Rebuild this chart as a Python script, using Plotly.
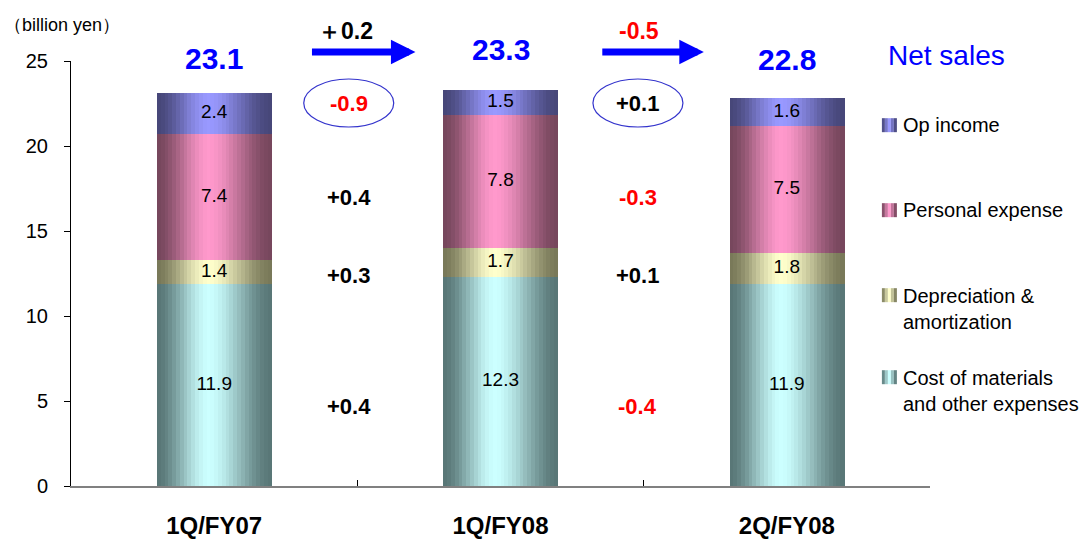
import plotly.graph_objects as go

# ---- data (billion yen) ----
periods = ["1Q/FY07", "1Q/FY08", "2Q/FY08"]
segments = ["Cost of materials<br>and other expenses", "Depreciation &<br>amortization",
            "Personal expense", "Op income"]
cost_other = [11.9, 12.3, 11.9]
depreciation = [1.4, 1.7, 1.8]
personal = [7.4, 7.8, 7.5]
op_income = [2.4, 1.5, 1.6]
net_sales = [23.1, 23.3, 22.8]

# period-to-period changes per segment (cost, depreciation, personal, op income)
change_fy07_fy08 = ["+0.4", "+0.3", "+0.4", "-0.9"]
change_1q_2q = ["-0.4", "+0.1", "-0.3", "+0.1"]
sales_change = ["＋0.2", "-0.5"]

series = [cost_other, depreciation, personal, op_income]
# (dark edge colour, light centre colour) for each segment
palette = [((88, 118, 118), (204, 255, 255)),
           ((120, 120, 88), (255, 255, 204)),
           ((118, 70, 92), (255, 153, 204)),
           ((70, 70, 120), (153, 153, 255))]

FONT = "Liberation Sans"

BAR_W = 0.4
N_STRIPS = 30


def shade(t):
    """Cylinder-like brightness profile across the bar (0 = edge, 1 = highlight)."""
    peak = 0.45
    if t <= peak:
        s = t / peak
    else:
        s = (1 - t) / (1 - peak)
    s = max(0.0, min(1.0, s))
    return s * s * (3 - 2 * s) * 0.85 + 0.15 * s


def mix(c0, c1, f):
    return "rgb(%d,%d,%d)" % tuple(round(a + (b - a) * f) for a, b in zip(c0, c1))


fig = go.Figure()

bases = [[0.0] * len(periods)]
for vals in series[:-1]:
    bases.append([b + v for b, v in zip(bases[-1], vals)])

strip_w = BAR_W / N_STRIPS
for vals, base, (dark, light) in zip(series, bases, palette):
    for i in range(N_STRIPS):
        t = (i + 0.5) / N_STRIPS
        fig.add_trace(go.Bar(
            x=periods, y=vals, base=base,
            width=strip_w * 1.15, offset=-BAR_W / 2 + i * strip_w,
            marker=dict(color=mix(dark, light, shade(t)), line=dict(width=0)),
            showlegend=False, hoverinfo="skip"))

# segment value labels
for vals, base in zip(series, bases):
    fig.add_trace(go.Scatter(
        x=periods, y=[b + v / 2 for b, v in zip(base, vals)],
        text=["%.1f" % v for v in vals], mode="text",
        textfont=dict(family=FONT, size=19, color="black"),
        showlegend=False, hoverinfo="skip"))

annotations = []

# net sales totals above bars
total_shift = [33, 38, 37]
for i, (p, tot) in enumerate(zip(periods, net_sales)):
    annotations.append(dict(x=i, y=tot, text="<b>%.1f</b>" % tot, showarrow=False,
                            yshift=total_shift[i] + 2,
                            font=dict(family=FONT, size=30, color="#0000ff")))


def chg_color(s):
    return "#ff0000" if s.startswith("-") else "black"


# segment change labels placed between the bars
change_heights = [4.65, 12.4, 17.0, 22.5]
for xc, changes in ((0.47, change_fy07_fy08), (1.48, change_1q_2q)):
    for s, yv in zip(changes, change_heights):
        annotations.append(dict(x=xc, y=yv, text="<b>%s</b>" % s, showarrow=False,
                                font=dict(family=FONT, size=22, color=chg_color(s))))

# net sales change arrows and labels (above the plotting area)
for (xtip, tail_px, xlab), s in zip(((0.703, -105, 0.46), (1.71, -103, 1.485)), sales_change):
    annotations.append(dict(x=xtip, y=1.021, xref="x", yref="paper",
                            ax=tail_px, ay=0, axref="pixel", ayref="pixel",
                            text="", showarrow=True, arrowhead=2, arrowsize=0.7,
                            arrowwidth=7, arrowcolor="#0000ff"))
    annotations.append(dict(x=xlab, y=1.07, xref="x", yref="paper", text="<b>%s</b>" % s,
                            showarrow=False, yanchor="middle",
                            font=dict(family=FONT, size=23, color=chg_color(s))))

# axis unit
annotations.append(dict(xref="paper", yref="paper", x=-0.08, y=1.085, xanchor="left",
                        yanchor="middle", text="（billion yen）", showarrow=False,
                        font=dict(family=FONT, size=18, color="black")))
# legend title and entries
annotations.append(dict(xref="paper", yref="paper", x=0.949, y=1.014, xanchor="left",
                        yanchor="middle", text="Net sales", showarrow=False,
                        font=dict(family=FONT, size=28, color="#0000ff")))

legend_rows = [0.849, 0.649, 0.449, 0.256]
legend_order = [3, 2, 1, 0]
shapes = []
for yrow, k in zip(legend_rows, legend_order):
    lines = segments[k].split("<br>")
    annotations.append(dict(xref="paper", yref="paper", x=0.966, y=yrow, xanchor="left",
                            yanchor="top" if len(lines) > 1 else "middle",
                            yshift=12 if len(lines) > 1 else 0,
                            align="left", text=segments[k], showarrow=False,
                            font=dict(family=FONT, size=20, color="black")))
    dark, light = palette[k]
    for j, f in enumerate([0.15, 0.6, 1.0, 0.55, 0.1]):
        shapes.append(dict(type="rect", xref="paper", yref="paper",
                           xsizemode="pixel", ysizemode="pixel",
                           xanchor=0.944, yanchor=yrow,
                           x0=j * 3, x1=j * 3 + 3, y0=-7, y1=7,
                           fillcolor=mix(dark, light, f), line=dict(width=0)))

# ellipses around the operating income changes
for xc in (0.47, 1.48):
    shapes.append(dict(type="circle", xref="x", yref="y", xsizemode="pixel",
                       ysizemode="pixel", xanchor=xc, yanchor=22.53,
                       x0=-45, x1=45, y0=-24, y1=24,
                       line=dict(color="#3333cc", width=1.2)))

fig.update_layout(
    width=1092, height=539,
    margin=dict(l=71, r=162, t=61, b=53),
    paper_bgcolor="white", plot_bgcolor="white",
    barmode="overlay", bargap=0,
    showlegend=False,
    annotations=annotations, shapes=shapes,
    font=dict(family=FONT, color="black"),
    xaxis=dict(type="category", categoryorder="array", categoryarray=periods,
               tickson="boundaries", ticks="inside", ticklen=6, tickcolor="black",
               showline=True, linecolor="#808080", linewidth=2, showgrid=False,
               tickfont=dict(family=FONT, size=24, color="black"),
               ticklabelstandoff=17, range=[-0.5, 2.5], automargin=False),
    yaxis=dict(range=[0, 25], dtick=5, ticks="outside", ticklen=6, tickcolor="black",
               showline=True, linecolor="black", linewidth=1, showgrid=False,
               zeroline=False, ticklabelstandoff=12, automargin=False,
               tickfont=dict(family=FONT, size=20, color="black")),
)
fig.update_xaxes(tickprefix="<b>", ticksuffix="</b>")

fig.write_html("out.html")
